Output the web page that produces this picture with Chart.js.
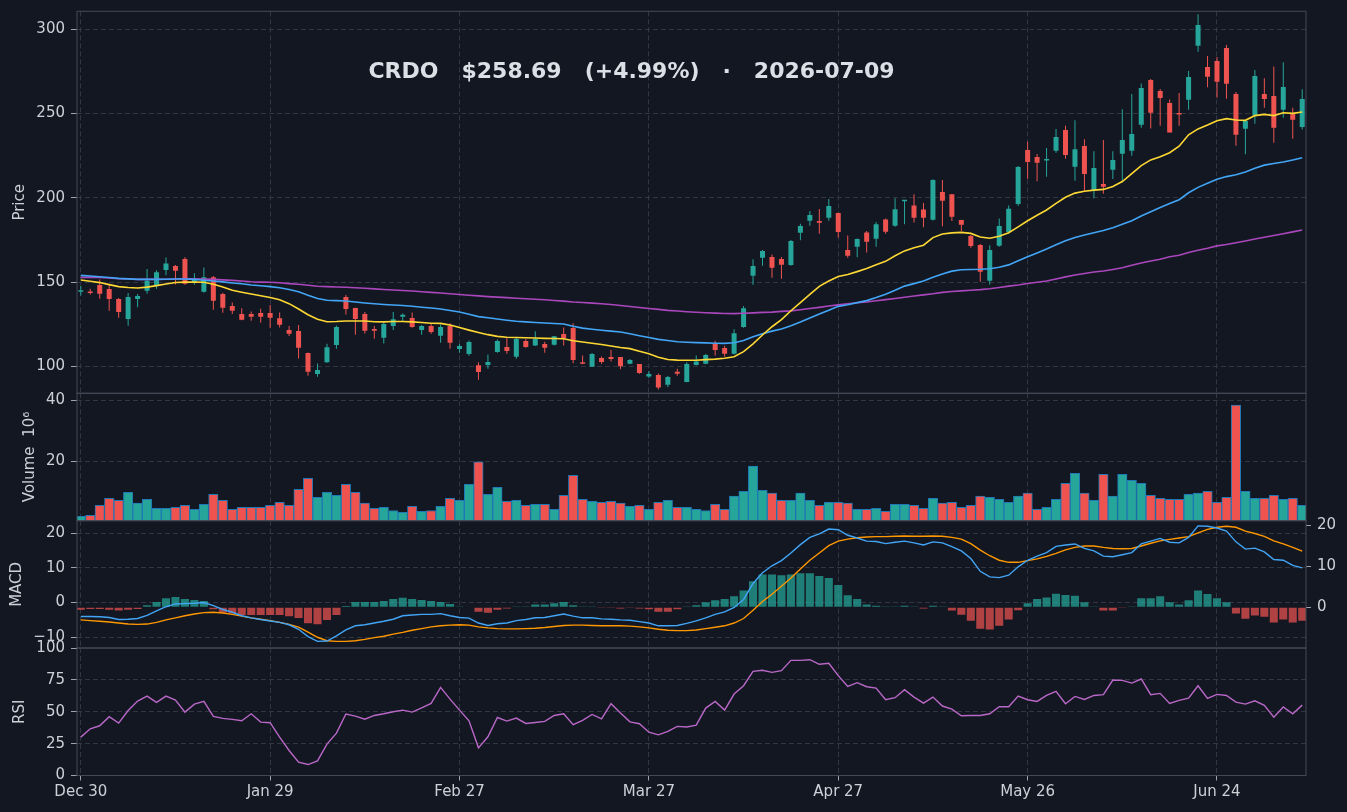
<!DOCTYPE html>
<html>
<head>
<meta charset="utf-8">
<script src="https://cdn.jsdelivr.net/npm/chart.js@4.4.1/dist/chart.umd.min.js"></script>
<style>
  html, body { margin: 0; padding: 0; background: #131722; overflow: hidden; }
  canvas { position: absolute; left: 0; top: 0; }
</style>
</head>
<body>
<canvas id="price" width="1347" height="812"></canvas>
<canvas id="vol" width="1347" height="812"></canvas>
<canvas id="macd" width="1347" height="812"></canvas>
<canvas id="rsi" width="1347" height="812"></canvas>
<script>
// x ticks (trading-day index) and their labels
const tickPos = [0, 20, 40, 60, 80, 100, 120];
const tickLbl = ['Dec 30', 'Jan 29', 'Feb 27', 'Mar 27', 'Apr 27', 'May 26', 'Jun 24'];

// daily candles
const opens = [144.2,144.1,148.2,145.9,139.9,128.1,139.9,144.9,148.0,157.1,
  159.5,163.7,149.6,144.3,152.8,142.9,135.8,131.0,131.0,131.6,
  131.6,128.6,121.5,120.9,107.9,95.4,102.5,112.6,141.1,134.6,
  131.0,122.1,117.0,123.9,129.5,128.7,121.5,123.9,118.2,124.1,
  110.3,107.3,100.6,100.8,108.5,111.5,105.7,115.0,112.3,113.2,
  112.8,119.2,122.7,102.2,99.8,104.9,105.5,105.5,101.6,101.4,
  94.0,94.8,89.1,96.8,90.7,100.8,101.6,113.4,110.9,107.5,
  123.3,153.8,164.5,164.9,163.7,160.1,179.3,186.4,186.2,188.2,
  191.0,169.0,171.0,179.5,175.7,187.2,183.5,197.9,195.5,193.1,
  187.0,203.4,202.2,186.8,177.3,172.0,150.8,171.6,179.7,196.3,
  228.4,224.2,222.2,228.0,240.2,218.5,230.7,204.6,208.2,216.7,
  226.2,228.0,243.4,269.9,263.4,256.3,249.7,258.2,290.3,277.6,
  281.2,288.9,261.6,241.0,248.9,261.6,260.4,252.3,250.1,242.0];
const highs = [147.6,146.0,151.6,148.2,140.5,143.5,142.9,157.7,157.0,164.6,
  160.1,164.8,155.2,158.7,153.6,143.7,137.9,134.4,132.6,134.2,
  136.4,132.0,123.9,124.5,108.2,101.7,113.4,124.3,142.3,134.8,
  132.2,123.9,126.9,132.2,131.4,132.0,124.5,125.1,124.9,125.5,
  113.2,115.4,102.4,107.1,116.0,117.4,117.2,116.2,120.8,114.6,
  118.0,123.1,125.5,106.5,107.9,105.9,109.9,105.5,104.3,101.4,
  97.2,95.8,94.2,98.6,102.4,106.5,107.3,115.2,112.2,122.0,
  135.8,163.5,169.0,166.4,164.9,175.0,184.6,192.2,193.4,199.3,
  191.2,177.7,175.9,180.3,185.6,187.8,199.7,198.7,202.1,196.9,
  211.0,210.6,202.2,187.0,177.9,172.6,171.8,187.8,195.5,218.9,
  233.3,226.0,229.6,240.8,242.8,246.0,234.7,227.6,234.3,227.6,
  252.5,261.6,267.9,270.5,264.6,258.4,262.2,275.2,308.9,284.2,
  283.6,290.7,262.8,246.0,275.9,270.9,278.0,280.4,253.5,264.4];
const lows = [142.1,142.7,140.1,133.0,128.8,124.1,135.0,143.1,146.0,154.0,
  148.6,148.4,148.4,143.7,133.6,131.8,131.0,127.3,127.1,125.9,
  122.9,123.1,118.0,104.7,94.4,93.8,102.1,110.4,130.8,118.8,
  119.5,116.4,113.6,121.5,126.7,122.9,118.8,119.4,114.0,110.5,
  108.1,106.3,92.1,98.6,108.1,107.5,104.5,111.1,112.1,108.1,
  112.3,112.4,101.8,101.2,99.6,101.6,102.8,98.2,101.2,95.6,
  93.1,86.3,87.7,94.4,90.5,100.6,101.2,106.5,105.7,107.1,
  122.9,148.4,159.7,152.6,152.0,159.7,174.8,183.5,178.7,186.4,
  176.5,164.5,164.7,167.6,171.0,178.7,182.9,184.3,185.4,182.5,
  186.6,183.1,186.2,180.3,170.4,150.2,148.6,171.0,178.9,195.1,
  211.3,209.8,212.5,226.8,223.2,210.2,203.6,199.7,202.4,211.2,
  210.2,225.0,241.6,241.2,242.8,238.7,242.8,252.3,286.7,265.6,
  259.4,258.8,230.9,225.8,244.0,253.5,232.7,247.6,235.1,240.6];
const closes = [144.6,143.5,143.1,139.9,132.2,141.1,141.7,150.8,155.9,161.1,
  156.7,149.0,151.6,152.8,138.9,134.8,133.0,127.7,129.4,129.4,
  128.8,124.7,119.3,111.0,96.8,97.8,111.4,123.3,134.0,128.1,
  121.1,121.1,125.1,128.0,130.6,123.3,123.9,120.4,123.3,114.0,
  112.1,114.4,96.6,102.6,115.0,109.1,116.2,111.5,116.2,111.1,
  117.8,116.6,103.7,101.6,107.3,102.6,104.3,100.0,103.7,96.0,
  95.4,87.5,93.6,95.6,101.4,102.8,106.7,109.7,107.5,119.6,
  134.4,159.5,168.4,158.5,160.3,174.4,183.3,189.8,185.2,195.1,
  179.7,165.7,175.5,173.9,184.3,179.9,193.2,198.3,188.2,188.2,
  210.6,198.3,188.8,184.1,171.4,156.2,169.0,183.3,193.5,218.3,
  221.2,220.8,222.8,236.1,225.4,228.9,214.1,217.7,206.6,222.4,
  234.3,237.9,265.2,250.5,259.2,238.7,249.4,271.7,302.5,271.9,
  268.9,267.7,237.5,245.6,272.3,258.6,241.6,265.8,246.39,258.69];

// volume, millions
const volume = [1.9,2.2,5.5,7.8,7.1,9.8,6.2,7.5,4.5,4.5,
  4.8,5.5,4.2,5.8,9.1,7.1,4.2,4.8,4.8,4.8,
  5.5,6.5,5.5,10.8,14.4,8.1,9.8,8.8,12.4,9.8,
  6.2,4.5,4.8,3.8,3.2,5.2,3.5,3.8,5.2,7.8,
  7.1,12.4,19.8,9.1,11.4,6.8,7.1,5.5,5.8,5.8,
  4.2,8.8,15.4,7.5,6.8,6.5,6.8,6.2,5.2,5.5,
  4.2,6.5,7.1,4.8,4.8,4.2,3.8,5.8,4.2,8.5,
  10.1,18.4,10.4,9.5,7.1,7.1,9.5,7.1,5.5,6.5,
  6.5,6.2,4.2,4.2,4.5,3.5,5.8,5.8,5.5,4.5,
  7.8,6.2,6.5,4.8,5.5,8.5,8.1,7.5,6.5,8.5,
  9.5,4.2,4.8,7.5,12.7,16.0,9.5,7.1,15.7,8.5,
  15.7,13.7,12.7,8.8,7.8,7.5,7.5,9.1,9.5,10.1,
  6.5,8.1,38.5,10.1,7.8,7.8,8.8,7.5,7.8,5.5];

// moving averages (short / mid / long)
const maShort = [151.2,150.5,149.7,148.5,147.3,146.8,146.5,147.0,147.9,148.9,
  149.8,150.0,150.0,149.9,148.7,147.1,145.2,144.0,142.9,141.9,
  140.9,139.5,137.2,134.0,130.6,128.0,126.5,126.6,126.9,126.9,
  126.9,126.5,126.4,126.6,126.6,126.4,126.0,125.6,125.5,124.5,
  123.0,121.5,120.1,118.8,117.8,117.3,117.1,117.0,116.8,116.6,
  116.5,116.4,115.2,114.4,113.7,113.0,112.1,111.2,110.5,109.0,
  107.5,105.4,104.1,103.7,103.6,103.6,104.0,104.3,104.8,105.7,
  108.7,113.3,118.6,123.5,127.7,133.0,137.8,142.7,147.5,150.6,
  153.3,154.5,156.2,158.0,160.3,162.3,165.6,168.5,170.4,171.9,
  176.4,178.5,179.2,179.5,178.9,176.8,176.0,177.2,179.3,182.8,
  186.4,189.7,192.8,196.7,200.3,202.8,203.9,204.6,205.0,206.7,
  209.7,214.4,219.1,222.5,224.4,226.8,230.6,237.4,240.9,243.2,
  245.8,247.0,246.2,246.0,248.8,249.5,248.8,250.5,250.1,250.9];
const maMid = [154.0,153.6,153.2,152.7,152.2,151.9,151.6,151.6,151.6,151.7,
  151.8,151.8,151.6,151.1,150.6,150.1,149.5,149.0,148.3,147.8,
  147.3,146.6,145.6,144.3,142.2,140.3,139.2,139.0,138.8,138.2,
  137.6,137.1,136.7,136.4,136.1,135.7,135.1,134.6,134.0,133.1,
  132.2,130.9,129.5,128.8,128.1,127.4,126.8,126.4,126.0,125.7,
  125.4,125.1,123.8,122.7,122.0,121.4,120.9,120.4,119.3,118.2,
  117.1,116.0,115.3,114.6,114.3,114.1,113.9,113.7,113.6,114.0,
  115.3,117.5,119.4,120.9,122.1,124.1,126.3,128.7,131.0,133.3,
  135.6,136.6,137.8,139.0,140.8,142.8,145.1,147.6,149.1,150.6,
  152.8,154.8,156.5,157.3,157.5,157.6,157.9,158.8,160.2,162.6,
  165.0,167.3,169.6,172.2,174.5,176.5,177.9,179.3,180.6,182.3,
  184.3,186.4,189.2,191.8,194.2,196.6,198.9,203.0,206.2,208.6,
  211.0,212.6,213.7,215.3,217.5,219.4,220.4,221.3,222.5,223.8];
const maLong = [152.8,152.8,152.7,152.4,152.0,151.8,151.6,151.6,151.6,151.7,
  151.8,151.9,151.9,151.8,151.6,151.3,151.0,150.6,150.2,150.0,
  149.9,149.6,149.1,148.7,148.1,147.5,147.3,147.1,146.9,146.6,
  146.3,146.0,145.6,145.3,145.0,144.7,144.3,143.9,143.5,143.1,
  142.6,142.2,141.8,141.4,141.1,140.8,140.4,140.1,139.8,139.5,
  139.1,138.7,138.2,137.9,137.5,137.1,136.7,136.1,135.5,134.9,
  134.3,133.8,133.2,132.8,132.4,132.1,131.8,131.6,131.4,131.3,
  131.5,131.7,132.0,132.2,132.6,132.9,133.6,134.3,135.0,135.8,
  136.5,137.1,137.7,138.2,138.9,139.6,140.3,141.0,141.7,142.4,
  143.1,143.9,144.4,144.8,145.2,145.5,146.0,146.8,147.6,148.3,
  149.2,149.9,150.6,151.8,153.1,154.2,155.1,156.0,156.6,157.5,
  158.5,160.0,161.3,162.5,163.6,165.0,165.9,167.6,168.9,170.1,
  171.5,172.3,173.3,174.4,175.6,176.6,177.6,178.7,179.8,180.9];

// MACD, signal and histogram
const macdLine = [-4.0,-4.0,-4.1,-4.3,-4.9,-4.8,-4.6,-3.7,-2.4,-1.2,
  -0.4,-0.3,-0.2,0.0,-0.9,-2.0,-2.8,-3.8,-4.4,-4.9,
  -5.3,-5.7,-6.4,-7.7,-9.8,-11.2,-11.1,-9.6,-7.9,-6.7,
  -6.4,-5.9,-5.4,-4.8,-3.8,-3.6,-3.4,-3.4,-3.2,-3.8,
  -4.3,-4.5,-5.9,-6.6,-6.1,-5.9,-5.2,-4.9,-4.4,-4.3,
  -3.8,-3.3,-3.9,-4.4,-4.4,-4.7,-4.8,-5.0,-5.1,-5.5,
  -5.9,-6.7,-6.7,-6.6,-6.0,-5.3,-4.4,-3.4,-2.7,-1.4,
  0.9,5.5,8.6,10.6,12.1,14.3,16.7,18.8,19.8,21.2,
  21.0,19.4,18.6,17.7,17.6,17.0,17.4,17.7,17.2,16.6,
  17.5,17.2,16.1,14.9,12.7,9.0,7.4,7.2,7.9,10.3,
  12.2,13.4,14.4,16.2,16.6,16.9,15.6,14.9,13.4,13.2,
  13.8,14.4,16.9,17.7,18.5,17.4,17.2,18.8,22.1,22.0,
  21.5,20.6,17.5,15.4,15.7,14.6,12.4,12.2,10.7,10.0];
const signalLine = [-5.0,-5.2,-5.4,-5.6,-5.9,-6.2,-6.3,-6.2,-5.7,-5.0,
  -4.4,-3.8,-3.3,-2.9,-2.8,-3.0,-3.4,-3.9,-4.4,-4.8,
  -5.2,-5.7,-6.3,-7.1,-8.5,-10.0,-11.0,-11.2,-11.2,-11.0,
  -10.6,-10.1,-9.7,-9.1,-8.6,-8.0,-7.5,-7.0,-6.7,-6.5,
  -6.4,-6.5,-7.0,-7.3,-7.5,-7.6,-7.6,-7.5,-7.4,-7.2,
  -6.9,-6.6,-6.5,-6.5,-6.6,-6.7,-6.7,-6.7,-6.8,-7.0,
  -7.3,-7.7,-8.0,-8.1,-8.1,-7.9,-7.5,-7.1,-6.7,-5.9,
  -4.6,-2.2,0.3,2.4,4.7,7.1,9.7,12.2,14.3,16.4,
  17.7,18.3,18.7,18.9,19.0,19.0,19.1,19.2,19.1,19.1,
  19.2,19.1,18.8,18.3,17.0,15.1,13.5,12.2,11.6,11.6,
  12.1,12.6,13.3,14.2,15.2,15.9,16.3,16.3,15.9,15.6,
  15.5,15.6,16.3,17.1,17.8,18.2,18.6,19.0,20.1,21.1,
  21.7,22.0,21.7,20.6,19.9,19.1,17.8,16.9,15.9,14.8];
const macdHist = [-0.6,-0.4,-0.4,-0.6,-0.8,-0.6,-0.4,0.5,1.3,2.2,
  2.5,2.0,1.8,1.5,-0.5,-1.3,-1.5,-1.9,-1.9,-1.9,
  -1.9,-1.9,-2.2,-2.6,-3.9,-4.1,-3.1,-1.9,0.3,1.3,
  1.3,1.3,1.5,2.0,2.3,2.0,1.8,1.5,1.3,0.8,
  0.05,-0.1,-1.1,-1.3,-0.6,-0.3,0.05,0.2,0.7,0.7,
  1.0,1.3,0.5,0.05,0.05,-0.15,-0.15,-0.3,-0.15,-0.3,
  -0.5,-1.1,-1.1,-0.5,0.05,0.5,1.2,1.7,2.0,2.7,
  4.1,6.3,8.0,8.0,7.8,8.0,8.3,8.3,7.6,7.1,
  5.4,2.9,2.0,0.7,0.4,0.05,0.2,0.4,0.05,-0.3,
  0.4,0.05,-0.8,-1.8,-3.3,-5.2,-5.4,-4.5,-3.0,-0.7,
  1.0,2.0,2.4,3.3,3.0,2.8,1.2,0.2,-0.8,-0.8,
  -0.2,0.2,2.2,2.2,2.7,1.2,0.7,1.7,4.1,3.2,
  2.2,1.2,-1.5,-2.8,-2.0,-2.3,-3.7,-3.0,-3.7,-3.3];

// RSI
const rsi = [30.1,36.6,39.0,46.1,41.1,51.0,58.4,62.3,57.3,62.3,
  59.2,49.7,56.0,58.1,46.3,44.8,44.0,42.9,48.4,41.9,
  41.4,30.1,19.6,10.5,8.6,11.5,24.6,33.2,48.2,46.6,
  44.2,47.1,48.4,50.0,51.3,49.7,53.1,56.5,69.1,59.9,
  51.3,42.9,21.7,30.4,45.5,42.7,45.0,40.8,41.6,42.4,
  47.1,48.4,39.8,43.2,47.9,44.5,56.3,49.0,42.1,40.6,
  34.0,31.9,34.6,38.5,38.0,39.5,52.9,58.1,51.3,63.9,
  70.4,81.7,82.5,80.9,82.2,90.3,90.3,90.8,87.2,88.0,
  78.3,69.9,72.8,69.6,68.6,59.4,61.0,67.3,61.5,56.8,
  61.5,54.5,52.1,46.9,47.1,47.1,48.4,53.9,53.9,62.3,
  59.4,58.1,62.8,66.0,56.3,62.0,59.7,62.8,63.4,74.9,
  74.6,72.5,75.7,63.4,64.4,56.5,58.9,60.7,70.4,60.5,
  63.6,62.8,57.6,56.0,58.6,55.0,45.8,53.7,48.4,55.2];

const headerText = 'CRDO   $258.69   (+4.99%)   \u00b7   2026-07-09';

// ---- look ----
const GRID = '#323643', SPINE = '#454957', TICKC = '#9ea2ab';
const UP = '#26a69a', DOWN = '#ef5350';
const W = 1347, H = 812, LEFT = 77, RIGHT = 1306;

Chart.defaults.font.family = "'DejaVu Sans', sans-serif";
Chart.defaults.font.size = 15;
Chart.defaults.color = '#cdd0d7';

const idx = closes.map((c, i) => i);
const isUp = idx.map(i => closes[i] >= opens[i]);
const candleCol = isUp.map(u => u ? UP : DOWN);
const histCol = macdHist.map(v => v >= 0 ? 'rgba(38,166,154,0.72)' : 'rgba(239,83,80,0.72)');
const pts = arr => arr.map((v, i) => ({x: i, y: v}));
const minus = v => v < 0 ? '\u2212' + Math.abs(v) : String(v);

// axes must not push the plot area around for their label overhang
function noOverhang(s) {
  s.paddingTop = 0; s.paddingBottom = 0; s.paddingLeft = 0; s.paddingRight = 0;
}

// box around every panel
const frame = {
  id: 'frame',
  afterDraw(chart) {
    const {ctx, chartArea: a} = chart;
    ctx.save();
    ctx.strokeStyle = SPINE;
    ctx.lineWidth = 1;
    ctx.strokeRect(a.left, a.top, a.right - a.left, a.bottom - a.top);
    ctx.restore();
  }
};

// ticker line in the price panel
const header = {
  id: 'header',
  afterDraw(chart) {
    const ctx = chart.ctx;
    ctx.save();
    ctx.font = "bold 22px 'DejaVu Sans'";
    ctx.fillStyle = '#dcdfe5';
    ctx.textAlign = 'center';
    ctx.textBaseline = 'alphabetic';
    ctx.fillText(headerText, 631.5, 78);
    ctx.restore();
  }
};

function xScale(labels) {
  return {
    type: 'linear', min: -0.4, max: 129.4, offset: false, bounds: 'data',
    afterBuildTicks: s => { s.ticks = tickPos.map(v => ({value: v})); },
    afterFit: s => { s.height = labels ? H - 775.5 : 0; noOverhang(s); },
    grid: { color: GRID, offset: false, drawTicks: labels, tickLength: 5, tickColor: TICKC },
    border: { display: false, dash: [5, 3] },
    ticks: { display: labels, autoSkip: false, maxRotation: 0, padding: 3,
             callback: (v, i) => tickLbl[i] }
  };
}

function yLeft(min, max, ticks, title, pad, fmt) {
  return {
    type: 'linear', position: 'left', min, max, bounds: 'data',
    afterBuildTicks: s => { s.ticks = ticks.map(v => ({value: v})); },
    afterFit: s => { s.width = LEFT; noOverhang(s); },
    grid: { color: GRID, tickLength: 6, tickColor: TICKC },
    border: { display: false, dash: [5, 3] },
    ticks: { padding: 6, callback: fmt || (v => String(v)) },
    title: { display: true, text: title, padding: {top: pad, bottom: 0}, font: {size: 15} }
  };
}

function baseOptions(top, bottom, right) {
  return {
    responsive: false, animation: false, devicePixelRatio: 1, events: [],
    layout: { autoPadding: false, padding: { left: 0, right: right, top: top, bottom: bottom } },
    plugins: { legend: { display: false }, tooltip: { enabled: false } }
  };
}

// price panel: candles + moving averages
const priceOpts = baseOptions(11.3, H - 393.3, W - RIGHT);
priceOpts.scales = {
  x: xScale(false),
  y: yLeft(84.0, 310.7, [100, 150, 200, 250, 300], 'Price', 11)
};
new Chart(document.getElementById('price'), {
  type: 'bar',
  data: {
    datasets: [
      { type: 'line', data: pts(maShort), borderColor: '#fdd835', borderWidth: 1.6, pointRadius: 0, order: 0 },
      { type: 'line', data: pts(maMid), borderColor: '#42a5f5', borderWidth: 1.6, pointRadius: 0, order: 0 },
      { type: 'line', data: pts(maLong), borderColor: '#ab47bc', borderWidth: 1.6, pointRadius: 0, order: 0 },
      { data: idx.map(i => ({x: i, y: [opens[i], closes[i]]})), backgroundColor: candleCol,
        grouped: false, maxBarThickness: 5, minBarLength: 1.5, order: 1 },
      { data: idx.map(i => ({x: i, y: [lows[i], highs[i]]})), backgroundColor: candleCol,
        grouped: false, maxBarThickness: 1, order: 2 }
    ]
  },
  options: priceOpts,
  plugins: [frame, header]
});

// volume panel
const volOpts = baseOptions(393.3, H - 520.7, W - RIGHT);
volOpts.scales = {
  x: xScale(false),
  y: yLeft(0.43, 42.4, [20, 40], 'Volume  10\u2076', 21)
};
new Chart(document.getElementById('vol'), {
  type: 'bar',
  data: {
    datasets: [{
      data: pts(volume), backgroundColor: candleCol, borderColor: '#1f77b4', borderWidth: 1,
      barPercentage: 1, categoryPercentage: 1
    }]
  },
  options: volOpts,
  plugins: [frame]
});

// MACD panel, histogram on its own right-hand axis
const macdOpts = baseOptions(520.7, H - 648, 0);
macdOpts.scales = {
  x: xScale(false),
  y: yLeft(-13.1, 23.6, [-10, 0, 10, 20], 'MACD', 8, minus),
  y2: {
    type: 'linear', position: 'right', min: -9.9, max: 21.05, bounds: 'data',
    afterBuildTicks: s => { s.ticks = [0, 10, 20].map(v => ({value: v})); },
    afterFit: s => { s.width = W - RIGHT; noOverhang(s); },
    grid: { drawOnChartArea: false, tickLength: 5, tickColor: TICKC },
    border: { display: false },
    ticks: { padding: 6 }
  }
};
new Chart(document.getElementById('macd'), {
  type: 'bar',
  data: {
    datasets: [
      { type: 'line', data: pts(macdLine), borderColor: '#42a5f5', borderWidth: 1.4, pointRadius: 0, order: 0 },
      { type: 'line', data: pts(signalLine), borderColor: '#ff9800', borderWidth: 1.4, pointRadius: 0, order: 0 },
      { data: pts(macdHist), yAxisID: 'y2', backgroundColor: histCol,
        barPercentage: 0.85, categoryPercentage: 1, order: 1 }
    ]
  },
  options: macdOpts,
  plugins: [frame]
});

// RSI panel with the date axis
const rsiOpts = baseOptions(648, 0, W - RIGHT);
rsiOpts.scales = {
  x: xScale(true),
  y: yLeft(0, 100, [0, 25, 50, 75, 100], 'RSI', 11)
};
new Chart(document.getElementById('rsi'), {
  type: 'line',
  data: {
    datasets: [{ data: pts(rsi), borderColor: '#ba68c8', borderWidth: 1.4, pointRadius: 0 }]
  },
  options: rsiOpts,
  plugins: [frame]
});
</script>
</body>
</html>
